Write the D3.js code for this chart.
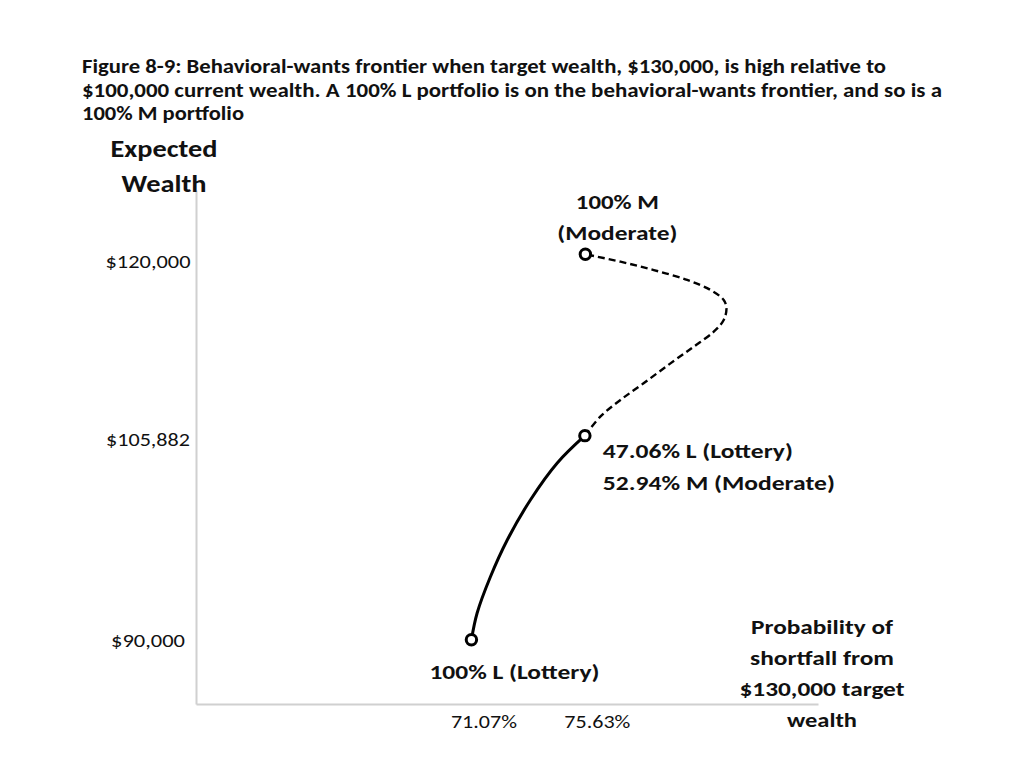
<!DOCTYPE html>
<html lang="en">
<head>
  <meta charset="UTF-8">
  <title>Figure 8-9: Behavioral-wants frontier</title>
  <style>
    body {
      margin: 0;
      background: #fff;
      font-family: Carlito, Calibri, Lato, 'Open Sans', sans-serif;
    }
    svg text { fill: #111; }
    .bold { font-weight: bold; }
    .axis-line { stroke: #d0d0d0; stroke-width: 2; }
  </style>
</head>
<body>
  <svg id="chart" width="1024" height="768"></svg>
  <script src="https://d3js.org/d3.v7.min.js"></script>
  <script>
    // Title
    const titleLines = [
      "Figure 8-9: Behavioral-wants frontier when target wealth, $130,000, is high relative to",
      "$100,000 current wealth. A 100% L portfolio is on the behavioral-wants frontier, and so is a",
      "100% M portfolio"
    ];
    // Axis ticks
    const xTickValues = [71.07, 75.63];
    const xTickLabels = ["71.07%", "75.63%"];
    const yTickValues = [90000, 105882, 120000];
    const yTickLabels = ["$90,000", "$105,882", "$120,000"];
    // Frontier, solid part: 100% L up to the 47.06% L / 52.94% M mix
    const solidX = [71.07, 71.30, 71.83, 72.51, 73.44, 74.52, 75.63];
    const solidY = [90000, 92080, 94880, 97760, 100880, 103760, 105882];
    // Frontier, dashed part: the mix up to 100% M
    const dashedX = [75.63, 76.25, 77.06, 77.99, 79.07, 80.00, 80.81, 81.21, 81.32, 81.21, 80.68, 79.74, 78.40, 77.06, 75.65];
    const dashedY = [105882, 107360, 108660, 109960, 111510, 112800, 113970, 114880, 115790, 116440, 117220, 118000, 118770, 119420, 120000];
    // Marked portfolios
    const markerX = [71.07, 75.63, 75.65];
    const markerY = [90000, 105882, 120000];

    const svg = d3.select('#chart');

    // scales
    const x = d3.scaleLinear().domain([60, 85]).range([196, 818]);
    const y = d3.scaleLinear().domain([85000, 125000]).range([704, 190]);

    // squeeze a label to the width it has in the picture (Calibri is narrow)
    function fit(sel, w) {
      sel.each(function() {
        const n = this.getComputedTextLength();
        if (Math.abs(n - w) / w > 0.02) {
          d3.select(this).attr('textLength', w).attr('lengthAdjust', 'spacingAndGlyphs');
        }
      });
      return sel;
    }

    // title
    const titleW = [804, 860, 162];
    titleLines.forEach((t, i) => {
      svg.append('text')
        .attr('class', 'bold')
        .attr('x', 82)
        .attr('y', 73 + i * 23.5)
        .attr('font-size', 20)
        .text(t)
        .call(fit, titleW[i]);
    });

    // axes: plain grey lines, no tick marks
    const xAxis = svg.append('g')
      .attr('transform', `translate(0,${y.range()[0]})`)
      .call(d3.axisBottom(x).tickValues(xTickValues).tickSize(0)
        .tickFormat((d, i) => xTickLabels[i]));
    const yAxis = svg.append('g')
      .attr('transform', `translate(${x.range()[0]},0)`)
      .call(d3.axisLeft(y).tickValues(yTickValues).tickSize(0)
        .tickFormat((d, i) => yTickLabels[i]));
    [xAxis, yAxis].forEach(g => {
      g.select('.domain').attr('class', 'axis-line');
      g.attr('font-family', null).attr('font-size', null);
    });
    xAxis.selectAll('text')
      .attr('font-size', 19)
      .attr('fill', '#111')
      .attr('dy', null)
      .attr('x', 12)
      .attr('y', 24)
      .call(fit, 66);
    yAxis.selectAll('text')
      .attr('font-size', 19)
      .attr('fill', '#111')
      .attr('text-anchor', 'middle')
      .attr('x', -48)
      .attr('dy', '0.34em')
      .attr('y', d => d === 120000 ? 7 : (d === 105882 ? 3 : 0))
      .each(function(d, i) { d3.select(this).call(fit, i === 1 ? 84 : (i === 0 ? 74 : 85)); });

    // axis titles
    const yTitle = [["Expected", 157, 107], ["Wealth", 192, 85]];
    yTitle.forEach(([t, ty, w]) => {
      svg.append('text').attr('class', 'bold')
        .attr('x', 164).attr('y', ty)
        .attr('text-anchor', 'middle')
        .attr('font-size', 25)
        .text(t).call(fit, w);
    });
    const xTitle = [["Probability of", 142], ["shortfall from", 144], ["$130,000 target", 165], ["wealth", 70]];
    xTitle.forEach(([t, w], i) => {
      svg.append('text').attr('class', 'bold')
        .attr('x', 822).attr('y', 634 + i * 31)
        .attr('text-anchor', 'middle')
        .attr('font-size', 21)
        .text(t).call(fit, w);
    });

    // frontier curves
    const line = d3.line()
      .x(d => x(d[0]))
      .y(d => y(d[1]))
      .curve(d3.curveCatmullRom.alpha(0.5));

    svg.append('path')
      .datum(d3.zip(solidX, solidY))
      .attr('d', line)
      .attr('fill', 'none')
      .attr('stroke', '#000')
      .attr('stroke-width', 3);

    svg.append('path')
      .datum(d3.zip(dashedX, dashedY))
      .attr('d', line)
      .attr('fill', 'none')
      .attr('stroke', '#000')
      .attr('stroke-width', 2.4)
      .attr('stroke-dasharray', '7,4');

    // portfolio markers
    svg.selectAll('.marker')
      .data(d3.zip(markerX, markerY))
      .enter().append('circle')
      .attr('class', 'marker')
      .attr('cx', d => x(d[0]))
      .attr('cy', d => y(d[1]))
      .attr('r', 5.2)
      .attr('fill', '#fff')
      .attr('stroke', '#000')
      .attr('stroke-width', 3);

    // point annotations
    const pL = [x(markerX[0]), y(markerY[0])];
    const pMix = [x(markerX[1]), y(markerY[1])];
    const pM = [x(markerX[2]), y(markerY[2])];

    svg.append('text').attr('class', 'bold')
      .attr('x', pL[0] + 43).attr('y', pL[1] + 39)
      .attr('text-anchor', 'middle').attr('font-size', 21)
      .text('100% L (Lottery)').call(fit, 170);

    [['47.06% L (Lottery)', 0, 190], ['52.94% M (Moderate)', 32, 232]].forEach(([t, dy, w]) => {
      svg.append('text').attr('class', 'bold')
        .attr('x', pMix[0] + 18).attr('y', pMix[1] + 22 + dy)
        .attr('font-size', 21)
        .text(t).call(fit, w);
    });

    [['100% M', -45, 83], ['(Moderate)', -14, 120]].forEach(([t, dy, w]) => {
      svg.append('text').attr('class', 'bold')
        .attr('x', pM[0] + 32).attr('y', pM[1] + dy)
        .attr('text-anchor', 'middle').attr('font-size', 21)
        .text(t).call(fit, w);
    });
  </script>
</body>
</html>
